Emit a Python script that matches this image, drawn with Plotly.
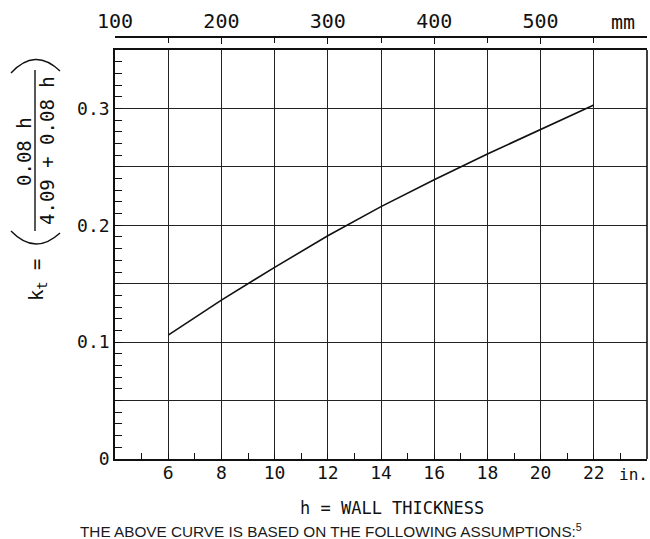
import plotly.graph_objects as go

# ---- data ----
h_in = [6, 8, 10, 12, 14, 16, 18, 20, 22]
kt = [0.106, 0.136, 0.164, 0.191, 0.216, 0.239, 0.261, 0.282, 0.303]

x_tickvals = [4, 6, 8, 10, 12, 14, 16, 18, 20, 22, 24]
x_ticktext = ["", "6", "8", "10", "12", "14", "16", "18", "20", "22", ""]
y_tickvals = [0, 0.05, 0.1, 0.15, 0.2, 0.25, 0.3, 0.35]
y_ticktext = ["0", "", "0.1", "", "0.2", "", "0.3", ""]
mm_tickvals = [100, 200, 300, 400, 500, 600]
mm_ticktext = ["100", "200", "300", "400", "500", ""]

W, H = 650, 539
L, R, T, B = 115, 3, 30, 80
PW, PH = W - L - R, H - T - B


def px(xs):
    return (xs - L) / PW


def py(ys):
    return (H - B - ys) / PH


MONO = "DejaVu Sans Mono"
INK = "#111111"

fig = go.Figure()
fig.add_trace(go.Scatter(x=h_in, y=kt, mode="lines",
                         line=dict(color=INK, width=1.6), showlegend=False))
# invisible trace for the mm axis
fig.add_trace(go.Scatter(x=[100, 600], y=[0, 0], xaxis="x2", mode="markers",
                         marker=dict(opacity=0), showlegend=False, hoverinfo="skip"))

ydom_top = py(50)

fig.update_layout(
    width=W, height=H,
    margin=dict(l=L, r=R, t=T, b=B, autoexpand=False),
    paper_bgcolor="white", plot_bgcolor="white",
    font=dict(family=MONO, size=18, color=INK),
    xaxis=dict(range=[4, 24], domain=[0, 1], tickvals=x_tickvals, ticktext=x_ticktext,
               showgrid=True, gridcolor="#222222", gridwidth=1.2,
               showline=True, linecolor=INK, linewidth=1.6, mirror=True,
               ticks="inside", ticklen=0, tickcolor=INK, automargin=False,
               minor=dict(dtick=1, ticks="inside", ticklen=6, tickcolor=INK, showgrid=False),
               zeroline=False, ticklabelstandoff=-3,
               tickfont=dict(family=MONO, size=18, color=INK)),
    yaxis=dict(range=[0, 0.35], domain=[0, ydom_top], tickvals=y_tickvals, ticktext=y_ticktext,
               showgrid=True, gridcolor="#222222", gridwidth=1.2,
               showline=True, linecolor=INK, linewidth=1.6, mirror=False,
               ticks="inside", ticklen=7, tickcolor=INK, automargin=False,
               minor=dict(dtick=0.01, ticks="inside", ticklen=7, tickcolor=INK, showgrid=False),
               zeroline=False, ticklabelstandoff=0,
               tickfont=dict(family=MONO, size=18, color=INK)),
    xaxis2=dict(range=[100, 600], domain=[0, px(632)], anchor="free", position=py(37),
                side="top", overlaying="x", tickvals=mm_tickvals, ticktext=mm_ticktext,
                showgrid=False, showline=True, linecolor=INK, linewidth=1.6,
                ticks="inside", ticklen=6, tickcolor=INK, automargin=False,
                minor=dict(dtick=50, ticks="inside", ticklen=5, tickcolor=INK),
                zeroline=False, tickfont=dict(family=MONO, size=20, color=INK)),
)


def note(text, xs, ys, size, family=MONO, angle=0, color=INK):
    return dict(text=text, x=px(xs), y=py(ys), xref="paper", yref="paper",
                xanchor="center", yanchor="middle", textangle=angle,
                showarrow=False, font=dict(family=family, size=size, color=color))


ann = [
    note("mm", 623, 22, 20),
    note("in.", 633, 474, 16),
    note("h = WALL THICKNESS", 392, 508, 17),
    note("THE ABOVE CURVE IS BASED ON THE FOLLOWING ASSUMPTIONS:<sup>5</sup>",
         331, 530, 15.3, family="Liberation Sans", color="#1a1a1a"),
    # y-axis title pieces (rotated)
    note("k<sub>t</sub> =", 37, 280, 19, angle=-90),
    note("0.08 h", 24, 152, 19, angle=-90),
    note("4.09 + 0.08 h", 47, 151, 19, angle=-90),
]
fig.update_layout(annotations=ann)

shapes = []
# right border of the plot
shapes.append(dict(type="line", xref="paper", yref="paper", x0=1, x1=1, y0=0, y1=ydom_top,
                   line=dict(color=INK, width=1.6)))
# fraction bar
shapes.append(dict(type="line", xref="paper", yref="paper",
                   x0=px(35), x1=px(35), y0=py(70), y1=py(231),
                   line=dict(color=INK, width=1.4)))
# parentheses as arcs
top_path = f"M {px(11)},{py(73)} Q {px(35)},{py(47)} {px(60)},{py(71)}"
bot_path = f"M {px(11)},{py(231)} Q {px(35)},{py(256)} {px(60)},{py(233)}"
for p in (top_path, bot_path):
    shapes.append(dict(type="path", path=p, xref="paper", yref="paper",
                       line=dict(color=INK, width=1.4)))
fig.update_layout(shapes=shapes)

# remove the default 8px page margin so the 650x539 figure fills the window exactly
fig.write_html("out.html", config={"displayModeBar": False},
               post_script="document.body.style.margin='0';document.body.style.overflow='hidden';")
